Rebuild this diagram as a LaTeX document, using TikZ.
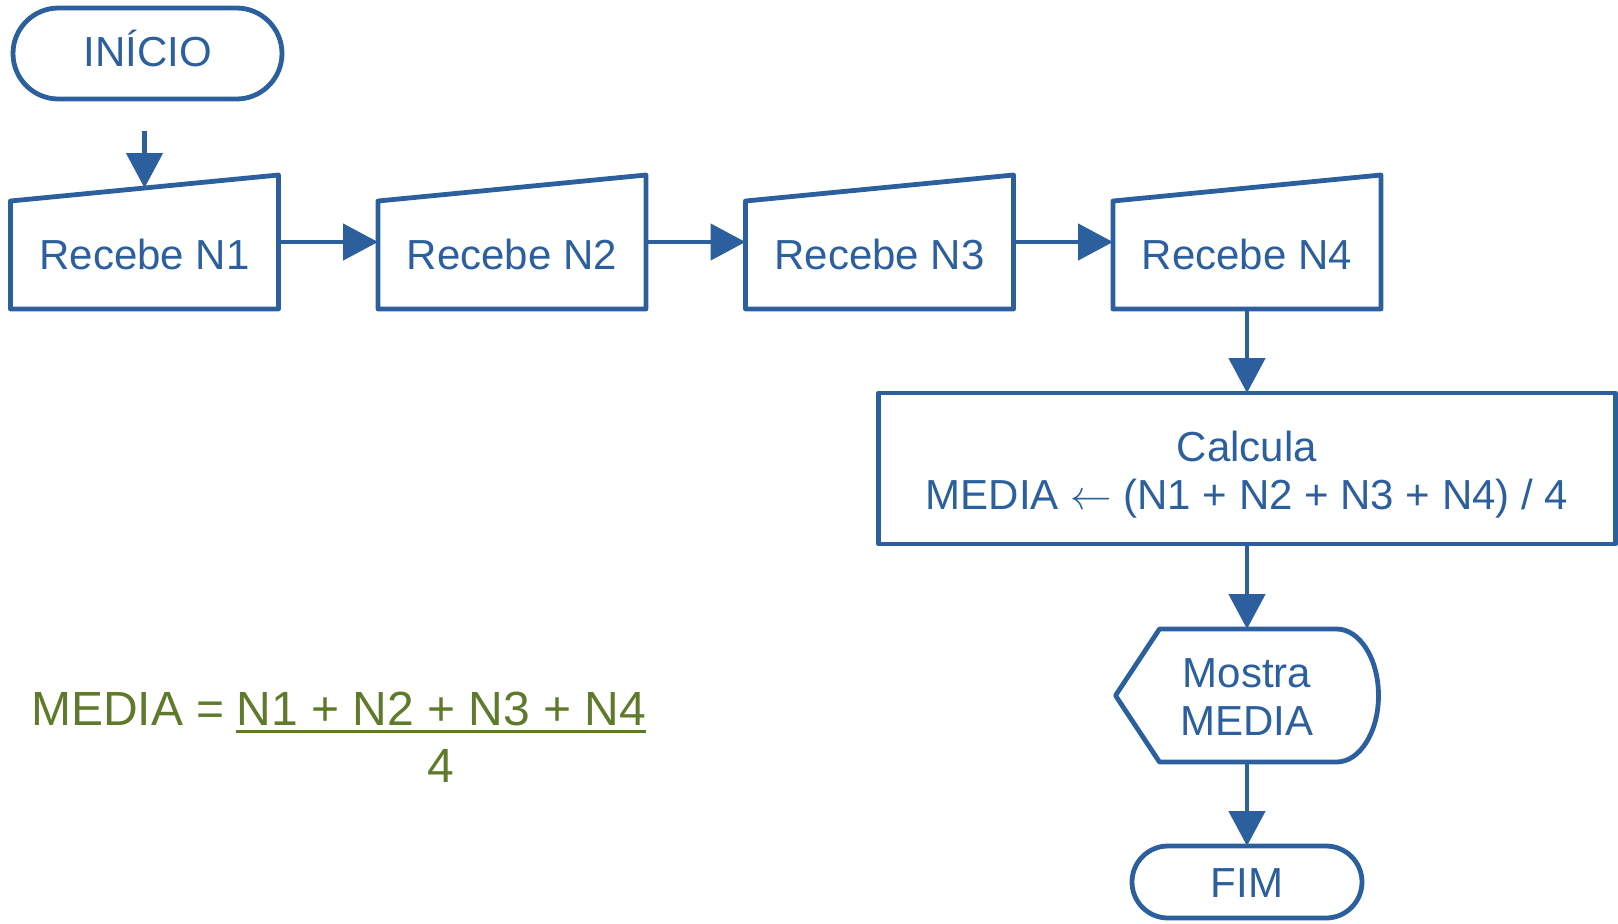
\documentclass[tikz,border=0pt]{standalone}
\usepackage{fontspec}
\setmainfont{Liberation Sans}
\usetikzlibrary{arrows.meta,calc}
\definecolor{flowblue}{RGB}{43,95,158}
\definecolor{formgreen}{RGB}{96,122,44}
\begin{document}
\begin{tikzpicture}[x=0.5pt,y=-0.5pt,
  shapeline/.style={draw=flowblue, line width=2.4pt, line join=round},
  hold/.style={draw=none, inner sep=0pt, outer sep=0pt},
  txt/.style={text=flowblue, inner sep=0pt, anchor=base, font=\fontsize{21}{24}\selectfont},
  conn/.style={draw=flowblue, line width=2.4pt, -{Triangle[length=17.5pt,width=18pt]}},
  formtxt/.style={text=formgreen, inner sep=0pt, font=\fontsize{24}{28}\selectfont}]

\useasboundingbox (0,0) rectangle (1618,923);

% frames that carry the anchors of each flowchart symbol
\node[hold, minimum width=134.5pt, minimum height=45.5pt] (inicio) at (147.5,53.5) {};
\node[hold, minimum width=134pt, minimum height=67pt] (n1) at (144.5,242) {};
\node[hold, minimum width=134pt, minimum height=67pt] (n2) at (512,242) {};
\node[hold, minimum width=134pt, minimum height=67pt] (n3) at (879.5,242) {};
\node[hold, minimum width=134pt, minimum height=67pt] (n4) at (1247,242) {};
\node[hold, shapeline, minimum width=368.5pt, minimum height=75.5pt] (calcbox) at (1247,468.5) {};
\node[hold, minimum width=131.5pt, minimum height=66.5pt] (show) at (1247,695.5) {};
\node[hold, minimum width=115pt, minimum height=36pt] (fim) at (1247,882) {};

% terminals
\draw[shapeline, rounded corners=22.75pt] (inicio.south west) rectangle (inicio.north east);
\draw[shapeline, rounded corners=18pt] (fim.south west) rectangle (fim.north east);

% manual input symbols (sloped top edge)
\foreach \b in {n1,n2,n3,n4}{
  \draw[shapeline] (\b.south west) -- (\b.south east) -- (\b.north east)
    -- ($(\b.north west)+(0,26)$) -- cycle;
}

% display symbol
\draw[shapeline] (show.west) -- ($(show.north west)+(44,0)$) -- ($(show.north east)+(-42,0)$)
  arc[start angle=90, end angle=-90, x radius=21pt, y radius=33.25pt]
  -- ($(show.south west)+(44,0)$) -- cycle;

% texts
\node[txt] (inicio-t) at (147.5,66) {INÍCIO};
\node[txt] (n1-t) at (144.5,269) {Recebe N1};
\node[txt] (n2-t) at (512,269) {Recebe N2};
\node[txt] (n3-t) at (879.5,269) {Recebe N3};
\node[txt] (n4-t) at (1247,269) {Recebe N4};
\node[txt] (calc-t1) at (1247,461) {Calcula};
\node[txt] (calc-t2) at (1247,509) {MEDIA $\leftarrow$ (N1 + N2 + N3 + N4) / 4};
\node[txt] (show-t1) at (1247,687) {Mostra};
\node[txt] (show-t2) at (1247,735) {MEDIA};
\node[txt] (fim-t) at (1247,897) {FIM};

% connectors
\coordinate (start) at (144.5,131);
\coordinate (n1in) at ($($(n1.north west)+(0,26)$)!0.5!(n1.north east)$);
\draw[conn] (start) -- (n1in);
\draw[conn] (n1.east) -- (n2.west);
\draw[conn] (n2.east) -- (n3.west);
\draw[conn] (n3.east) -- (n4.west);
\draw[conn] (n4.south) -- (calcbox.north);
\draw[conn] (calcbox.south) -- (show.north);
\draw[conn] (show.south) -- (fim.north);

% formula
\node[formtxt, anchor=base east] (f-lhs) at (225,725) {MEDIA =};
\node[formtxt, anchor=base west] (f-num) at (236,725) {N1 + N2 + N3 + N4};
\draw[formgreen, line width=1.5pt] ($(f-num.base west)+(0,6)$) -- ($(f-num.base east)+(0,6)$);
\node[formtxt, anchor=base] (f-den) at ($(f-num.base)+(0,57)$) {4};
\end{tikzpicture}
\end{document}
